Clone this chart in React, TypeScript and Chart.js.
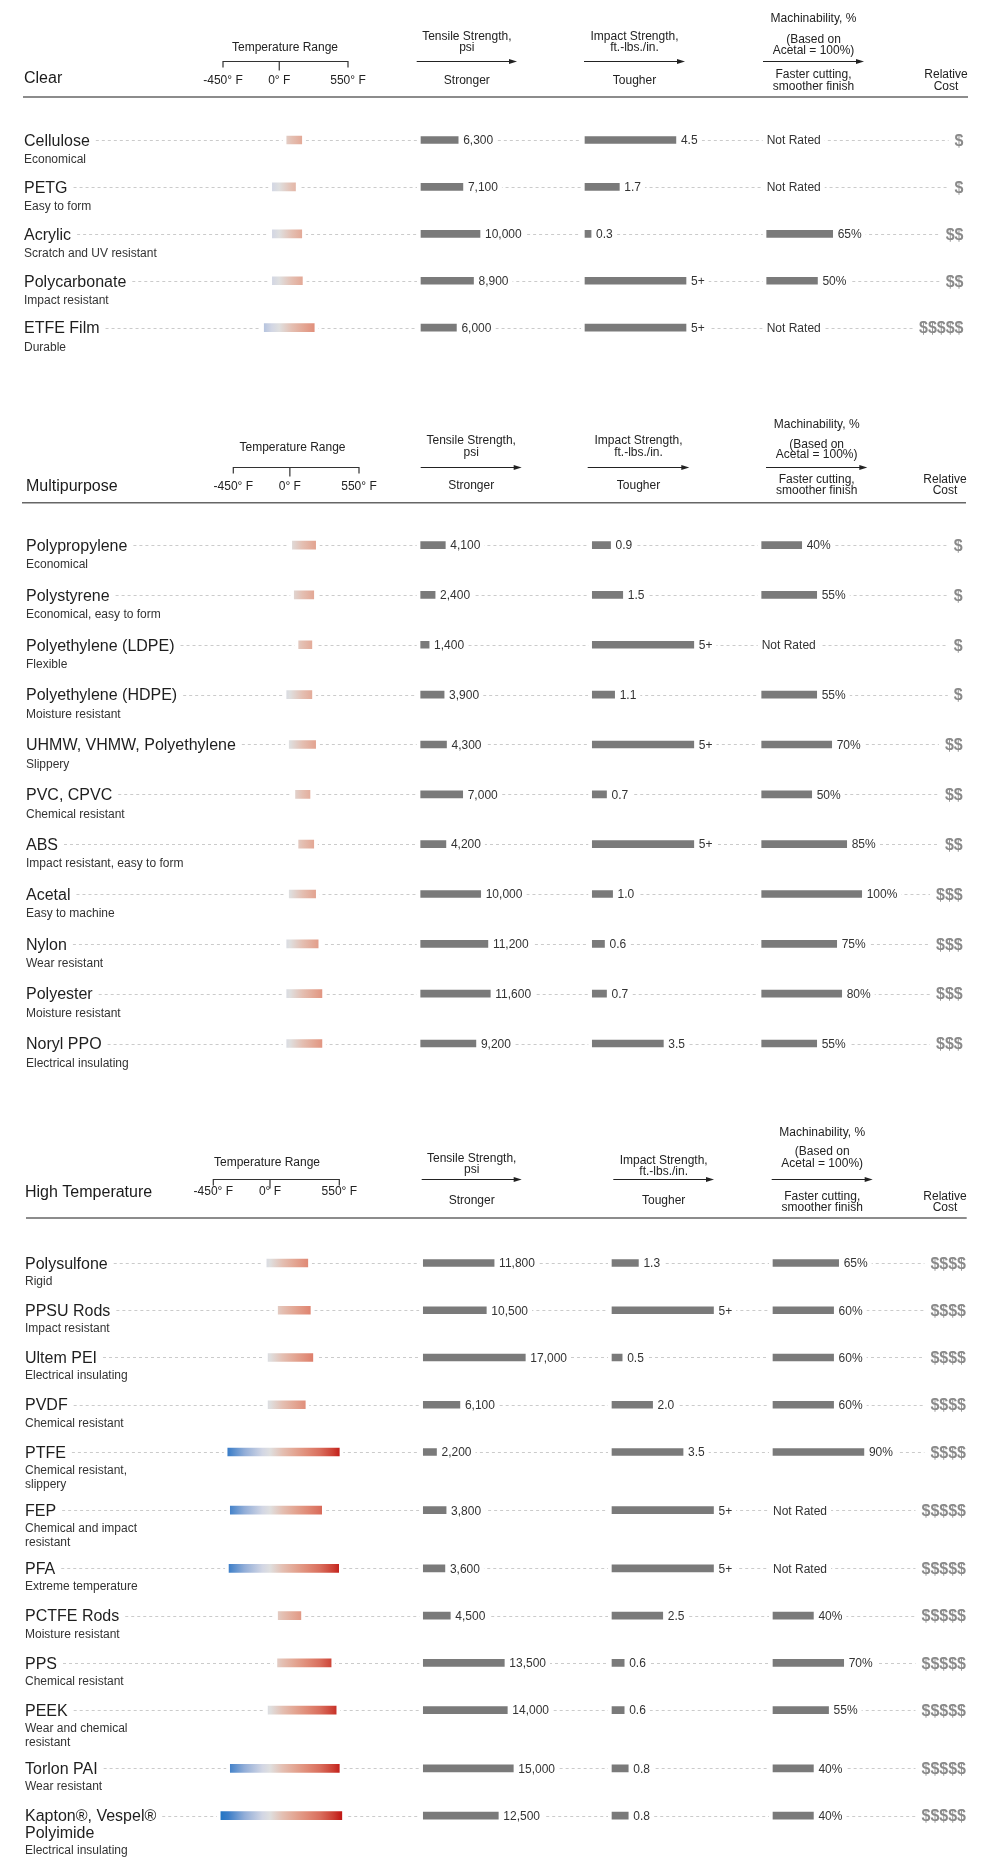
import { useEffect, useRef } from 'react';
import { Chart, registerables } from 'chart.js';

Chart.register(...registerables);

const FONT = '"Liberation Sans", Arial, Helvetica, sans-serif';
const W = 991;

// ---------------- DATA ----------------
const tempTicks = [-450, 0, 550];
const tempHeader = 'Temperature Range';
const tensileHeader = ['Tensile Strength,', 'psi'];
const tensileBelow = 'Stronger';
const impactHeader = ['Impact Strength,', 'ft.-lbs./in.'];
const impactBelow = 'Tougher';
const machHeader = ['Machinability, %', '(Based on', 'Acetal = 100%)'];
const machBelow = ['Faster cutting,', 'smoother finish'];
const costHeader = ['Relative', 'Cost'];
const notRated = 'Not Rated';

const clearNames = ['Cellulose', 'PETG', 'Acrylic', 'Polycarbonate', 'ETFE Film'];
const clearDescs = ['Economical', 'Easy to form', 'Scratch and UV resistant', 'Impact resistant', 'Durable'];
const clearTempLow = [60, -55, -55, -55, -120];
const clearTempHigh = [180, 130, 180, 185, 280];
const clearTensile = [6300, 7100, 10000, 8900, 6000];
const clearImpact = [4.5, 1.7, 0.3, 5, 5];
const clearMach: (number | null)[] = [null, null, 65, 50, null];
const clearCost = [1, 1, 2, 2, 5];

const multiNames = ['Polypropylene', 'Polystyrene', 'Polyethylene (LDPE)', 'Polyethylene (HDPE)', 'UHMW, VHMW, Polyethylene', 'PVC, CPVC', 'ABS', 'Acetal', 'Nylon', 'Polyester', 'Noryl PPO'];
const multiDescs = ['Economical', 'Economical, easy to form', 'Flexible', 'Moisture resistant', 'Slippery', 'Chemical resistant', 'Impact resistant, easy to form', 'Easy to machine', 'Wear resistant', 'Moisture resistant', 'Electrical insulating'];
const multiTempLow = [20, 35, 70, -25, -5, 45, 70, -5, -25, -25, -25];
const multiTempHigh = [205, 190, 175, 175, 205, 160, 190, 205, 225, 255, 255];
const multiTensile = [4100, 2400, 1400, 3900, 4300, 7000, 4200, 10000, 11200, 11600, 9200];
const multiImpact = [0.9, 1.5, 5, 1.1, 5, 0.7, 5, 1.0, 0.6, 0.7, 3.5];
const multiMach: (number | null)[] = [40, 55, null, 55, 70, 50, 85, 100, 75, 80, 55];
const multiCost = [1, 1, 1, 1, 2, 2, 2, 3, 3, 3, 3];

const highNames = ['Polysulfone', 'PPSU Rods', 'Ultem PEI', 'PVDF', 'PTFE', 'FEP', 'PFA', 'PCTFE Rods', 'PPS', 'PEEK', 'Torlon PAI', 'Kapton®, Vespel®\nPolyimide'];
const highDescs = ['Rigid', 'Impact resistant', 'Electrical insulating', 'Chemical resistant', 'Chemical resistant,\nslippery', 'Chemical and impact\nresistant', 'Extreme temperature', 'Moisture resistant', 'Chemical resistant', 'Wear and chemical\nresistant', 'Wear resistant', 'Electrical insulating'];
const highTempLow = [-25, 65, -15, -15, -335, -315, -325, 65, 60, -15, -315, -390];
const highTempHigh = [300, 320, 340, 280, 550, 410, 545, 245, 485, 525, 550, 570];
const highTensile = [11800, 10500, 17000, 6100, 2200, 3800, 3600, 4500, 13500, 14000, 15000, 12500];
const highImpact = [1.3, 5, 0.5, 2.0, 3.5, 5, 5, 2.5, 0.6, 0.6, 0.8, 0.8];
const highMach: (number | null)[] = [65, 60, 60, 60, 90, null, null, 40, 70, 55, 40, 40];
const highCost = [4, 4, 4, 4, 4, 5, 5, 5, 5, 5, 5, 5];

// temperature colour ramp (°F -> colour)
const tempStops: [number, string][] = [
  [-450, '#0a6cc0'], [-330, '#3c7ec8'], [-200, '#93aed8'], [-60, '#d2d6e4'], [0, '#dfdfdf'],
  [100, '#e4bfb2'], [200, '#e3a592'], [300, '#e08a76'], [400, '#d96d5c'], [500, '#cc4034'], [560, '#c21c18'], [600, '#b80e0e'],
];

// ---------------- FORMATTERS ----------------
const fmtTensile = (v: number) => v.toLocaleString('en-US');
const fmtImpact = (v: number) => (v >= 5 ? '5+' : v.toFixed(1));
const fmtMach = (v: number) => `${v}%`;
const fmtCost = (n: number) => '$'.repeat(n);
const fmtTemp = (v: number) => `${v}° F`;

// ---------------- LAYOUT ----------------
interface Layout {
  top: number; height: number; firstRow: number; rowStep: number; lineExtra: number;
  nameX: number; descOffset: number; descLineH: number; nameLineH: number;
  titleY: number; tempLeft: number; tempRight: number; tempLabelX: number; tempLabelY: number;
  bracketY: number; tickLabelY: number;
  tenStart: number; tenK: number; impStart: number; impK: number; machStart: number; machK: number; costRight: number;
  tenArrow: [number, number]; impArrow: [number, number]; machArrow: [number, number]; arrowY: number;
  tenHdrY: number[]; impHdrY: number[]; machHdrY: number[]; belowY: number; fasterY: number[];
  costHdrX: number; ruleY: number; ruleX: [number, number];
}
interface Section {
  title: string; names: string[]; descs: string[]; tempLow: number[]; tempHigh: number[];
  tensile: number[]; impact: number[]; mach: (number | null)[]; cost: number[]; L: Layout;
}

const sections: Section[] = [
  {
    title: 'Clear', names: clearNames, descs: clearDescs, tempLow: clearTempLow, tempHigh: clearTempHigh,
    tensile: clearTensile, impact: clearImpact, mach: clearMach, cost: clearCost,
    L: {
      top: 0, height: 375, firstRow: 140, rowStep: 46.925, lineExtra: 0, nameX: 24, descOffset: 18.7, descLineH: 13.5, nameLineH: 16,
      titleY: 77, tempLeft: 223, tempRight: 348, tempLabelX: 285, tempLabelY: 47, bracketY: 61, tickLabelY: 80,
      tenStart: 421, tenK: 0.0059, impStart: 585, impK: 20.2, machStart: 766.7, machK: 1.015, costRight: 963.5,
      tenArrow: [416.7, 517], impArrow: [584, 685], machArrow: [763, 864], arrowY: 61,
      tenHdrY: [35.5, 46.5], impHdrY: [35.5, 46.5], machHdrY: [18, 39, 49.5], belowY: 80, fasterY: [74, 85.5],
      costHdrX: 946, ruleY: 97, ruleX: [23, 968],
    },
  },
  {
    title: 'Multipurpose', names: multiNames, descs: multiDescs, tempLow: multiTempLow, tempHigh: multiTempHigh,
    tensile: multiTensile, impact: multiImpact, mach: multiMach, cost: multiCost,
    L: {
      top: 395, height: 680, firstRow: 545.1, rowStep: 49.84, lineExtra: 0, nameX: 26, descOffset: 19, descLineH: 13.5, nameLineH: 16,
      titleY: 485, tempLeft: 233.3, tempRight: 359, tempLabelX: 292.5, tempLabelY: 446.7, bracketY: 466.7, tickLabelY: 486,
      tenStart: 420.7, tenK: 0.006, impStart: 592.3, impK: 20.3, machStart: 761.7, machK: 1.0, costRight: 962.7,
      tenArrow: [420.7, 521.7], impArrow: [587.7, 689.3], machArrow: [766, 867.3], arrowY: 466.7,
      tenHdrY: [440, 452], impHdrY: [440, 452], machHdrY: [423.3, 443.3, 453.5], belowY: 485, fasterY: [479, 490],
      costHdrX: 945, ruleY: 502.7, ruleX: [22, 966],
    },
  },
  {
    title: 'High Temperature', names: highNames, descs: highDescs, tempLow: highTempLow, tempHigh: highTempHigh,
    tensile: highTensile, impact: highImpact, mach: highMach, cost: highCost,
    L: {
      top: 1100, height: 764, firstRow: 1263, rowStep: 47.24, lineExtra: 11, nameX: 25, descOffset: 17.5, descLineH: 14, nameLineH: 17,
      titleY: 1191, tempLeft: 213.3, tempRight: 339.3, tempLabelX: 267, tempLabelY: 1161.7, bracketY: 1179.3, tickLabelY: 1191,
      tenStart: 423.3, tenK: 0.006, impStart: 612, impK: 20.3, machStart: 773, machK: 1.01, costRight: 966,
      tenArrow: [421.7, 521.7], impArrow: [613.3, 714], machArrow: [771.7, 872.7], arrowY: 1179.3,
      tenHdrY: [1158, 1168.5], impHdrY: [1160, 1170.5], machHdrY: [1132, 1151, 1162.5], belowY: 1199.3, fasterY: [1196, 1207],
      costHdrX: 945, ruleY: 1218, ruleX: [26, 966.7],
    },
  },
];

// row positions in "row units": each row is one unit, rows with extra text lines get a bit more room
function rowPositions(sec: Section) {
  const pos = [0];
  for (let i = 0; i < sec.names.length - 1; i++) {
    const lines = sec.names[i].split('\n').length + sec.descs[i].split('\n').length;
    pos.push(pos[i] + 1 + (sec.L.lineExtra / sec.L.rowStep) * (lines - 2));
  }
  return pos;
}

// ---------------- DRAW HELPERS ----------------
function put(ctx: CanvasRenderingContext2D, s: string, x: number, y: number, size: number, align: CanvasTextAlign, color: string, weight = 'normal') {
  ctx.font = `${weight} ${size}px ${FONT}`;
  ctx.fillStyle = color;
  ctx.textAlign = align;
  ctx.textBaseline = 'alphabetic';
  ctx.fillText(s, x, y + size * 0.36);
}

function arrow(ctx: CanvasRenderingContext2D, x0: number, x1: number, yy: number) {
  const y = Math.round(yy) + 0.5;
  ctx.strokeStyle = '#222';
  ctx.lineWidth = 1;
  ctx.beginPath();
  ctx.moveTo(x0, y);
  ctx.lineTo(x1 - 5, y);
  ctx.stroke();
  ctx.fillStyle = '#222';
  ctx.beginPath();
  ctx.moveTo(x1, y);
  ctx.lineTo(x1 - 8, y - 2.6);
  ctx.lineTo(x1 - 8, y + 2.6);
  ctx.closePath();
  ctx.fill();
}

function tempGradient(chart: any) {
  const sc = chart.scales?.xT;
  if (!sc) return '#e0e0e0';
  const a = sc.getPixelForValue(-450);
  const b = sc.getPixelForValue(600);
  if (!isFinite(a) || !isFinite(b)) return '#e0e0e0';
  const g = chart.ctx.createLinearGradient(a, 0, b, 0);
  tempStops.forEach(([t, c]) => g.addColorStop((t + 450) / 1050, c));
  return g;
}

function linRange(a: number, b: number) {
  // pixel = a + b * value over chart area [0, W]
  return { min: -a / b, max: (W - a) / b };
}

function makePlugin(sec: Section, pos: number[]) {
  const L = sec.L;
  return {
    id: 'materialRows',
    beforeDatasetsDraw(chart: any) {
      const ctx = chart.ctx as CanvasRenderingContext2D;
      const o = L.top;
      const sc = chart.scales;
      ctx.save();

      // ---- header ----
      put(ctx, sec.title, L.nameX, L.titleY - o, 16, 'left', '#1a1a1a');
      put(ctx, tempHeader, L.tempLabelX, L.tempLabelY - o, 12, 'center', '#222');
      const by = Math.round(L.bracketY - o) + 0.5;
      const tp = tempTicks.map((t) => sc.xT.getPixelForValue(t));
      ctx.strokeStyle = '#333';
      ctx.lineWidth = 1.2;
      ctx.beginPath();
      ctx.moveTo(tp[0], by + 6);
      ctx.lineTo(tp[0], by);
      ctx.lineTo(tp[tp.length - 1], by);
      ctx.lineTo(tp[tp.length - 1], by + 6);
      tp.slice(1, -1).forEach((p) => { ctx.moveTo(p, by); ctx.lineTo(p, by + 9); });
      ctx.stroke();
      tempTicks.forEach((t, k) => put(ctx, fmtTemp(t), tp[k], L.tickLabelY - o, 12, 'center', '#222'));

      const tc = (L.tenArrow[0] + L.tenArrow[1]) / 2;
      const ic = (L.impArrow[0] + L.impArrow[1]) / 2;
      const mc = (L.machArrow[0] + L.machArrow[1]) / 2;
      tensileHeader.forEach((s, k) => put(ctx, s, tc, L.tenHdrY[k] - o, 12, 'center', '#222'));
      impactHeader.forEach((s, k) => put(ctx, s, ic, L.impHdrY[k] - o, 12, 'center', '#222'));
      machHeader.forEach((s, k) => put(ctx, s, mc, L.machHdrY[k] - o, 12, 'center', '#222'));
      arrow(ctx, L.tenArrow[0], L.tenArrow[1], L.arrowY - o);
      arrow(ctx, L.impArrow[0], L.impArrow[1], L.arrowY - o);
      arrow(ctx, L.machArrow[0], L.machArrow[1], L.arrowY - o);
      put(ctx, tensileBelow, tc, L.belowY - o, 12, 'center', '#222');
      put(ctx, impactBelow, ic, L.belowY - o, 12, 'center', '#222');
      machBelow.forEach((s, k) => put(ctx, s, mc, L.fasterY[k] - o, 12, 'center', '#222'));
      costHeader.forEach((s, k) => put(ctx, s, L.costHdrX, L.fasterY[k] - o, 12, 'center', '#222'));

      ctx.strokeStyle = '#666';
      ctx.lineWidth = 1.5;
      ctx.beginPath();
      ctx.moveTo(L.ruleX[0], L.ruleY - o);
      ctx.lineTo(L.ruleX[1], L.ruleY - o);
      ctx.stroke();

      // ---- rows ----
      sec.names.forEach((nm, i) => {
        const y = sc.y.getPixelForValue(pos[i]);
        const lines = nm.split('\n');
        lines.forEach((ln, k) => put(ctx, ln, L.nameX, y + k * L.nameLineH, 16, 'left', '#1e1e1e'));
        const d0 = y + L.descOffset + (lines.length - 1) * L.nameLineH;
        sec.descs[i].split('\n').forEach((ln, k) => put(ctx, ln, L.nameX, d0 + k * L.descLineH, 12, 'left', '#333'));

        ctx.font = `16px ${FONT}`;
        const dashStart = L.nameX + ctx.measureText(lines[0]).width + 6;
        ctx.font = `bold 16px ${FONT}`;
        const dashEnd = L.costRight - ctx.measureText(fmtCost(sec.cost[i])).width - 6;
        const yy = Math.round(y) + 0.5;
        ctx.setLineDash([3, 3]);
        ctx.strokeStyle = '#cbcbcb';
        ctx.lineWidth = 1;
        ctx.beginPath();
        ctx.moveTo(dashStart, yy);
        ctx.lineTo(dashEnd, yy);
        ctx.stroke();
        ctx.setLineDash([]);

        ctx.font = `12px ${FONT}`;
        const gaps: [number, number][] = [];
        gaps.push([sc.xT.getPixelForValue(sec.tempLow[i]), sc.xT.getPixelForValue(sec.tempHigh[i])]);
        const sv = sec.tensile[i];
        gaps.push([sc.xS.getPixelForValue(0), sc.xS.getPixelForValue(sv) + 5 + ctx.measureText(fmtTensile(sv)).width]);
        const iv = sec.impact[i];
        gaps.push([sc.xI.getPixelForValue(0), sc.xI.getPixelForValue(iv) + 5 + ctx.measureText(fmtImpact(iv)).width]);
        const mv = sec.mach[i];
        if (mv == null) gaps.push([L.machStart, L.machStart + ctx.measureText(notRated).width]);
        else gaps.push([sc.xM.getPixelForValue(0), sc.xM.getPixelForValue(mv) + 5 + ctx.measureText(fmtMach(mv)).width]);
        ctx.fillStyle = '#ffffff';
        gaps.forEach(([a, b]) => ctx.fillRect(a - 4, yy - 3, b - a + 8, 6));
      });
      ctx.restore();
    },
    afterDatasetsDraw(chart: any) {
      const ctx = chart.ctx as CanvasRenderingContext2D;
      const sc = chart.scales;
      ctx.save();
      sec.names.forEach((_, i) => {
        const y = sc.y.getPixelForValue(pos[i]);
        const sv = sec.tensile[i];
        put(ctx, fmtTensile(sv), sc.xS.getPixelForValue(sv) + 5, y, 12, 'left', '#333');
        const iv = sec.impact[i];
        put(ctx, fmtImpact(iv), sc.xI.getPixelForValue(iv) + 5, y, 12, 'left', '#333');
        const mv = sec.mach[i];
        if (mv == null) put(ctx, notRated, L.machStart, y, 12, 'left', '#333');
        else put(ctx, fmtMach(mv), sc.xM.getPixelForValue(mv) + 5, y, 12, 'left', '#333');
        put(ctx, fmtCost(sec.cost[i]), L.costRight, y, 16, 'right', '#8a8a8a', 'bold');
      });
      ctx.restore();
    },
  };
}

function buildConfig(sec: Section): any {
  const L = sec.L;
  const pos = rowPositions(sec);
  const last = pos[pos.length - 1];
  const padTop = L.firstRow - L.top - 0.5 * L.rowStep;
  const padBottom = L.height - (L.firstRow - L.top + (last + 0.5) * L.rowStep);
  const tB = (L.tempRight - L.tempLeft) / 1000;
  const tA = L.tempLeft + 450 * tB;
  const BAR = '#7a7a7a';
  const hidden = { type: 'linear', axis: 'x', position: 'bottom', display: false, bounds: 'data', offset: false };
  const common = { barThickness: 7, borderWidth: 0, grouped: false, yAxisID: 'y' };
  return {
    type: 'bar',
    data: {
      datasets: [
        {
          ...common, label: 'Temperature Range', xAxisID: 'xT', barThickness: 8,
          data: sec.tempLow.map((lo, i) => ({ x: [lo, sec.tempHigh[i]], y: pos[i] })),
          backgroundColor: (c: any) => tempGradient(c.chart),
        },
        { ...common, label: 'Tensile Strength', xAxisID: 'xS', backgroundColor: BAR, data: sec.tensile.map((v, i) => ({ x: v, y: pos[i] })) },
        { ...common, label: 'Impact Strength', xAxisID: 'xI', backgroundColor: BAR, data: sec.impact.map((v, i) => ({ x: v, y: pos[i] })) },
        {
          ...common, label: 'Machinability', xAxisID: 'xM', backgroundColor: BAR,
          data: sec.mach.map((v, i) => ({ x: v, y: pos[i] })).filter((d) => d.x != null),
        },
      ],
    },
    options: {
      indexAxis: 'y',
      responsive: false,
      animation: false,
      devicePixelRatio: 1,
      events: [],
      layout: { padding: { left: 0, right: 0, top: padTop, bottom: padBottom } },
      plugins: { legend: { display: false }, tooltip: { enabled: false }, title: { display: false } },
      scales: {
        y: { type: 'linear', display: false, reverse: true, offset: false, bounds: 'data', min: -0.5, max: last + 0.5 },
        xT: { ...hidden, ...linRange(tA, tB) },
        xS: { ...hidden, ...linRange(L.tenStart, L.tenK) },
        xI: { ...hidden, ...linRange(L.impStart, L.impK) },
        xM: { ...hidden, ...linRange(L.machStart, L.machK) },
      },
    },
    plugins: [makePlugin(sec, pos)],
  };
}

function SectionChart({ sec }: { sec: Section }) {
  const ref = useRef<HTMLCanvasElement>(null);
  useEffect(() => {
    if (!ref.current) return;
    const chart = new Chart(ref.current, buildConfig(sec));
    return () => chart.destroy();
  }, [sec]);
  return (
    <canvas
      ref={ref}
      width={W}
      height={sec.L.height}
      style={{ position: 'absolute', left: 0, top: sec.L.top, width: W, height: sec.L.height, display: 'block' }}
    />
  );
}

export default function App() {
  return (
    <div style={{ position: 'absolute', left: 0, top: 0, width: W, height: 1864, background: '#fff', overflow: 'hidden' }}>
      {sections.map((s) => (
        <SectionChart key={s.title} sec={s} />
      ))}
    </div>
  );
}
